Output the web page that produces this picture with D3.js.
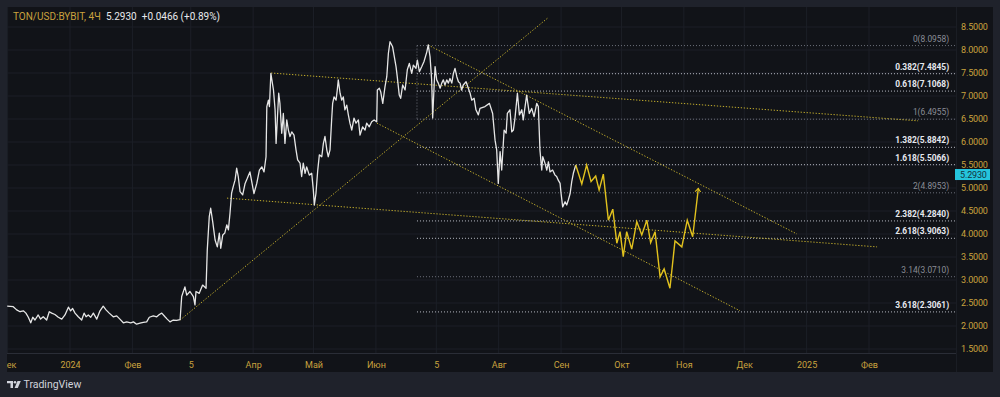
<!DOCTYPE html>
<html>
<head>
<meta charset="utf-8">
<script src="https://cdn.jsdelivr.net/npm/d3@7"></script>
<style>
  html, body { margin: 0; padding: 0; background: #1f222b; }
  svg { display: block; font-family: Roboto, "Liberation Sans", sans-serif; }
</style>
</head>
<body>
<svg id="chart" width="1000" height="397"></svg>
<script>
// days counted from 2024-01-01, price in USD
const tonPath = [
  [-31.2,2.43],[-28.2,2.42],[-26.5,2.35],[-24.8,2.31],[-23.2,2.33],[-21.9,2.28],[-20.7,2.19],[-19.5,2.07],[-18.5,2.19],[-17.4,2.13],
  [-15.8,2.24],[-14.6,2.15],[-13.3,2.20],[-11.6,2.13],[-10.3,2.31],[-9.1,2.28],[-7.5,2.25],[-5.8,2.19],[-4.1,2.15],[-2.5,2.24],
  [-0.8,2.41],[0.3,2.33],[1.3,2.38],[2.5,2.28],[4.1,2.20],[5.8,2.13],[7.0,2.28],[8.0,2.20],[9.1,2.24],[10.3,2.19],
  [11.6,2.28],[13.3,2.15],[14.9,2.33],[16.5,2.43],[17.9,2.35],[19.5,2.28],[21.5,2.20],[23.2,2.22],[24.8,2.15],[26.5,2.07],
  [28.2,2.09],[30.2,2.07],[31.5,2.09],[33.1,2.04],[34.8,2.06],[36.4,2.08],[38.1,2.09],[39.4,2.19],[41.4,2.22],[43.1,2.20],
  [44.4,2.25],[45.6,2.28],[47.2,2.20],[48.3,2.15],[49.7,2.09],[51.3,2.13],[53.0,2.12],[54.7,2.14],
  [55.5,2.64],[57.1,2.85],[58.0,2.67],[59.6,2.75],[61.3,2.64],[62.1,2.46],[62.6,2.75],[64.2,2.71],[65.9,2.89],[67.6,2.82],
  [68.2,3.65],[69.2,4.38],[69.9,4.56],[70.9,4.27],[72.1,3.87],[73.2,3.72],[74.2,4.02],[74.9,3.69],[75.9,3.98],[76.9,4.02],
  [77.9,4.20],[78.7,4.09],[79.5,4.45],[80.3,4.89],[81.1,5.03],[82.0,5.17],[82.8,5.43],[83.6,5.25],[84.5,4.92],[85.8,4.85],
  [87.0,5.10],[88.1,5.21],[89.4,5.35],[90.3,5.14],[91.4,4.88],[92.8,5.10],[94.1,5.39],[95.3,5.46],[96.4,5.35],[97.4,5.68],
  [97.8,6.77],[98.6,6.91],[99.1,6.77],[99.8,7.49],[100.3,7.35],[101.1,7.13],[101.9,6.70],[102.4,5.97],[103.0,6.48],[103.7,7.06],
  [104.3,6.84],[105.2,6.19],[106.0,6.62],[106.8,5.97],[107.7,6.48],[108.5,6.26],[109.3,6.12],[110.2,6.22],[111.3,6.15],[112.3,5.83],
  [113.1,5.61],[114.3,5.54],[115.1,5.25],[115.9,5.54],[116.8,5.32],[117.6,5.46],[118.9,5.28],[120.1,5.32],[120.9,4.96],[121.4,4.63],
  [122.2,4.88],[123.1,5.39],[123.9,5.72],[125.1,5.68],[125.9,5.97],[126.7,6.12],[127.6,5.83],[128.3,5.68],[129.2,5.83],[130.0,6.48],
  [130.5,6.84],[131.2,6.98],[132.2,6.91],[132.8,7.13],[133.3,7.35],[134.2,7.06],[135.0,6.91],[135.8,6.98],[136.6,6.70],[137.5,6.80],
  [138.3,6.59],[139.1,6.41],[140.0,6.26],[141.1,6.52],[142.1,6.41],[143.3,6.48],[144.1,6.15],[145.4,6.33],[146.6,6.26],[147.4,6.41],
  [148.7,6.33],[149.9,6.44],[151.1,6.48],[152.4,6.44],[152.7,7.13],[153.7,7.17],[154.4,7.09],[155.4,6.84],[156.5,7.20],[157.4,7.42],
  [158.2,7.93],[159.0,8.18],[160.3,8.07],[161.0,7.89],[162.0,7.64],[162.6,7.42],[163.6,7.02],[164.3,6.95],[165.3,7.24],[166.5,7.13],
  [167.6,7.57],[168.6,7.71],[169.8,7.49],[170.6,7.67],[171.9,7.60],[172.6,7.78],[173.6,7.53],[174.8,7.64],[175.9,7.75],[177.3,7.96],
  [178.0,8.11],[178.9,7.85],[179.7,7.35],[180.2,6.52],[180.9,7.20],[181.4,7.64],[182.2,7.35],[183.0,7.28],[183.9,7.17],[184.7,7.28],
  [185.5,7.35],[186.3,7.24],[187.2,7.35],[188.0,7.28],[188.8,7.38],[189.7,7.28],[190.5,7.49],[191.3,7.60],[192.2,7.42],[193.0,7.31],
  [193.8,7.28],[194.6,7.13],[195.4,7.24],[196.8,7.31],[197.9,7.17],[198.8,7.06],[199.6,6.91],[200.8,6.95],[201.7,6.70],[202.9,6.59],
  [203.7,6.73],[206.2,6.77],[208.4,6.84],[210.0,6.62],[211.2,6.04],[212.0,5.83],[212.8,5.10],[213.7,5.79],[214.5,5.39],[215.7,6.26],
  [216.7,6.19],[217.3,6.62],[218.6,6.70],[219.5,6.22],[220.3,6.26],[221.1,6.52],[222.3,7.06],[223.3,6.59],[224.5,6.70],[225.2,6.48],
  [226.9,7.02],[228.2,6.62],[229.4,6.73],[230.6,6.55],[231.9,6.84],[232.7,6.77],[233.5,5.83],[234.4,5.39],[234.9,5.68],[236.0,5.54],
  [236.9,5.39],[237.7,5.57],[238.5,5.35],[239.8,5.39],[241.0,5.28],[241.8,5.25],[242.6,5.17],[243.5,5.10],[244.0,4.88],[244.8,4.59],
  [246.0,4.70],[246.8,4.63],[247.6,4.74],[248.5,4.88],[249.3,5.14],[250.1,5.32],[251.3,5.50]
];

// hand drawn forecast path (yellow)
const forecastPath = [
  [251.3,5.50],[254.3,5.09],[256.7,5.50],[258.9,5.14],[261.2,5.26],[262.9,4.96],[265.0,5.30],[267.5,4.30],[269.7,4.54],
  [271.7,3.80],[273.3,4.05],[274.9,3.51],[276.6,4.05],[279.1,3.67],[281.6,4.27],[284.1,3.98],[286.6,4.30],[288.5,3.81],
  [290.7,4.05],[293.2,3.07],[295.2,3.24],[298.1,2.82],[300.6,3.85],[304.0,3.72],[306.7,4.30],[309.4,3.94],[312.2,4.99]
];

// trend lines: [day1, price1, day2, price2]
const trendLines = [
  [54.7, 2.13, 237.5, 8.70],
  [99.9, 7.50, 421.4, 6.46],
  [78.0, 4.78, 401.0, 3.72],
  [177.9, 8.11, 361.2, 4.00],
  [152.5, 6.41, 332.9, 2.33]
];

const fibRatios = ["0", "0.382", "0.618", "1", "1.382", "1.618", "2", "2.382", "2.618", "3.14", "3.618"];
const fibPrices = [8.0958, 7.4845, 7.1068, 6.4955, 5.8842, 5.5066, 4.8953, 4.2840, 3.9063, 3.0710, 2.3061];
const fibBold = [false, true, true, false, true, true, false, true, true, false, true];
const fibRange = [172.4, 439.8];

const priceTicks = [1.5, 2, 2.5, 3, 3.5, 4, 4.5, 5, 5.5, 6, 6.5, 7, 7.5, 8, 8.5];
const monthDates = ["2023-12-01", "2024-01-01", "2024-02-01", "2024-03-01", "2024-04-01", "2024-05-01", "2024-06-01",
  "2024-07-01", "2024-08-01", "2024-09-01", "2024-10-01", "2024-11-01", "2024-12-01", "2025-01-01", "2025-02-01"];
const monthLabels = ["Дек", "2024", "Фев", "5", "Апр", "Май", "Июн", "5", "Авг", "Сен", "Окт", "Ноя", "Дек", "2025", "Фев"];

const lastPrice = 5.2930;

const t0 = Date.UTC(2024, 0, 1);
const toDate = d => new Date(t0 + d * 864e5);

const pane = {left: 7, top: 7, right: 956, bottom: 353};
const gold = "#c9a23e";

const x = d3.scaleUtc()
  .domain([new Date("2024-01-01T00:00:00Z"), new Date("2025-02-01T00:00:00Z")])
  .range([70, 869]);
const y = d3.scaleLinear().domain([1.5, 8.5]).range([349, 27]);

const svg = d3.select("#chart");

svg.append("rect")
  .attr("x", 7).attr("y", 7).attr("width", 986).attr("height", 365)
  .attr("fill", "#111318");

const defs = svg.append("defs");
defs.append("clipPath").attr("id", "paneClip")
  .append("rect")
  .attr("x", pane.left).attr("y", pane.top)
  .attr("width", pane.right - pane.left).attr("height", pane.bottom - pane.top);
defs.append("clipPath").attr("id", "timeClip")
  .append("rect")
  .attr("x", pane.left).attr("y", pane.bottom)
  .attr("width", pane.right - pane.left).attr("height", 20);
defs.append("marker")
  .attr("id", "arrow").attr("viewBox", "0 0 10 10")
  .attr("refX", 5).attr("refY", 5)
  .attr("markerWidth", 7).attr("markerHeight", 7)
  .attr("markerUnits", "userSpaceOnUse")
  .attr("orient", "auto")
  .append("path")
  .attr("d", "M0,1 L5,5 L0,9")
  .attr("fill", "none").attr("stroke", "#e2c21e").attr("stroke-width", 1.6);

const plot = svg.append("g").attr("clip-path", "url(#paneClip)");

// grid
plot.selectAll(".hgrid").data(priceTicks).enter().append("line")
  .attr("class", "hgrid")
  .attr("x1", pane.left).attr("x2", pane.right)
  .attr("y1", d => y(d)).attr("y2", d => y(d))
  .attr("stroke", "#1c1f27").attr("stroke-width", 1);
plot.selectAll(".vgrid").data(monthDates).enter().append("line")
  .attr("class", "vgrid")
  .attr("x1", d => x(new Date(d + "T00:00:00Z"))).attr("x2", d => x(new Date(d + "T00:00:00Z")))
  .attr("y1", pane.top).attr("y2", pane.bottom)
  .attr("stroke", "#1c1f27").attr("stroke-width", 1);

// fib levels
const fx1 = x(toDate(fibRange[0])), fx2 = x(toDate(fibRange[1]));
plot.append("line")
  .attr("x1", fx1).attr("x2", fx1)
  .attr("y1", y(fibPrices[0])).attr("y2", y(fibPrices[3]))
  .attr("stroke", "#6f727c").attr("stroke-dasharray", "1,2");
plot.selectAll(".fib").data(fibPrices).enter().append("line")
  .attr("class", "fib")
  .attr("x1", fx1).attr("x2", fx2)
  .attr("y1", d => y(d)).attr("y2", d => y(d))
  .attr("stroke", (d, i) => fibBold[i] ? "#b8bbc4" : "#6f727c")
  .attr("stroke-dasharray", "1,2");
plot.selectAll(".fibLabel").data(fibPrices).enter().append("text")
  .attr("class", "fibLabel")
  .attr("x", fx2 - 6).attr("y", d => y(d) - 4)
  .attr("text-anchor", "end")
  .attr("font-size", 8.4)
  .attr("font-weight", (d, i) => fibBold[i] ? "bold" : "normal")
  .attr("fill", (d, i) => fibBold[i] ? "#e6e8ee" : "#8a8d96")
  .text((d, i) => fibRatios[i] + "(" + d.toFixed(4) + ")");

// trend lines
plot.selectAll(".trend").data(trendLines).enter().append("line")
  .attr("class", "trend")
  .attr("x1", d => x(toDate(d[0]))).attr("y1", d => y(d[1]))
  .attr("x2", d => x(toDate(d[2]))).attr("y2", d => y(d[3]))
  .attr("stroke", "#c2ad2c").attr("stroke-width", 1)
  .attr("stroke-dasharray", "1.3,1.7");

const line = d3.line()
  .x(d => x(toDate(d[0])))
  .y(d => y(d[1]));

plot.append("path").datum(tonPath)
  .attr("d", line)
  .attr("fill", "none").attr("stroke", "#e6e6e6").attr("stroke-width", 1.3)
  .attr("stroke-linejoin", "round");

plot.append("path").datum(forecastPath)
  .attr("d", line)
  .attr("fill", "none").attr("stroke", "#e2c21e").attr("stroke-width", 1.4)
  .attr("stroke-linejoin", "miter")
  .attr("marker-end", "url(#arrow)");

// separators
svg.append("line")
  .attr("x1", pane.left).attr("x2", pane.right)
  .attr("y1", pane.bottom + 0.5).attr("y2", pane.bottom + 0.5)
  .attr("stroke", "#2a2d36");
svg.append("line")
  .attr("x1", pane.right + 0.5).attr("x2", pane.right + 0.5)
  .attr("y1", pane.top).attr("y2", 372)
  .attr("stroke", "#1a1d24");

// price axis
const yAxis = svg.append("g")
  .attr("transform", "translate(" + 958 + ",0)")
  .call(d3.axisRight(y).tickValues(priceTicks).tickSize(0).tickPadding(3).tickFormat(d3.format(".4f")));
yAxis.select(".domain").remove();
yAxis.selectAll("text")
  .attr("fill", gold).attr("font-size", 9).attr("letter-spacing", -0.15)
  .attr("font-family", "Roboto, sans-serif");

// time axis
const xAxis = svg.append("g")
  .attr("clip-path", "url(#timeClip)")
  .append("g")
  .attr("transform", "translate(0," + pane.bottom + ")")
  .call(d3.axisBottom(x)
    .tickValues(monthDates.map(d => new Date(d + "T00:00:00Z")))
    .tickSize(0).tickPadding(9)
    .tickFormat((d, i) => monthLabels[i]));
xAxis.select(".domain").remove();
xAxis.selectAll("text")
  .attr("fill", gold).attr("font-size", 9).attr("font-family", "Roboto, sans-serif");

// last price tag
svg.append("rect")
  .attr("x", 955).attr("y", y(lastPrice) - 5.5)
  .attr("width", 35).attr("height", 11)
  .attr("fill", "#25c4dc");
svg.append("text")
  .attr("x", 960).attr("y", y(lastPrice) + 3.2)
  .attr("font-size", 9).attr("letter-spacing", -0.15).attr("fill", "#123340")
  .text(lastPrice.toFixed(4));

// legend
const legend = svg.append("text")
  .attr("x", 13).attr("y", 19.5)
  .attr("font-size", 10);
legend.append("tspan").attr("fill", gold).text("TON/USD:BYBIT, 4Ч");
legend.append("tspan").attr("dx", 5).attr("fill", "#e8e9ec").text(lastPrice.toFixed(4));
legend.append("tspan").attr("dx", 5).attr("fill", "#e8e9ec").text("+0.0466 (+0.89%)");

// TradingView mark
const logo = svg.append("g").attr("fill", "#d1d4dc");
logo.append("path").attr("d", "M7,381 H13 V388 H10.5 V383.3 H7 Z");
logo.append("circle").attr("cx", 15).attr("cy", 382.2).attr("r", 1.3);
logo.append("path").attr("d", "M17.5,381 H20.8 L17.8,388 H14.6 Z");
svg.append("text")
  .attr("x", 23.5).attr("y", 388.3)
  .attr("font-size", 10.5).attr("fill", "#d1d4dc")
  .text("TradingView");
</script>
</body>
</html>
